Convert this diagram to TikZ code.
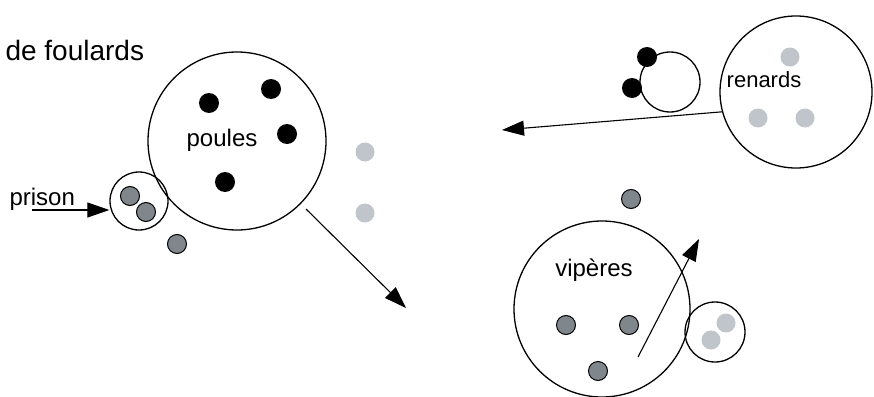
\documentclass[tikz,border=0pt]{standalone}
\usepackage{fontspec}
\setmainfont{Liberation Sans}
\usetikzlibrary{positioning}
\usetikzlibrary{arrows.meta}

\definecolor{darkdot}{HTML}{7F868C}
\definecolor{paledot}{HTML}{C0C4CB}

\tikzset{
  group/.style={draw, circle, line width=1.3pt, inner sep=0pt},
  animal/.style={font=\fontsize{24}{28}\selectfont},
  blackdot/.style={circle, fill=black, inner sep=0pt, minimum size=20pt},
  greydot/.style={circle, fill=darkdot, draw=black, line width=1pt, inner sep=0pt, minimum size=19pt},
  palepoint/.style={circle, fill=paledot, inner sep=0pt, minimum size=19pt},
  move/.style={-{Triangle[length=22pt,width=15pt]}, line width=1.1pt}
}

\begin{document}
\begin{tikzpicture}[x=1pt,y=-1pt]
        \useasboundingbox (0,0) rectangle (874,396);

      \node[anchor=base west, font=\fontsize{28}{32}\selectfont] (title) at (2,60) {de foulards};

      % poules
      \node[group, minimum size=178pt]  (poules)  at (237,141) {};
      \node[animal]                     (lpoules) at (222,140) {poules};
      \node[blackdot] (p_1) at (209,103) {};
      \node[blackdot] (p_2) at (271,89)  {};
      \node[blackdot] (p_3) at (287,134) {};
      \node[blackdot] (p_4) at (225,182) {};

      % prison
      \node[group, minimum size=58pt]  (prison)  at (139,201) {};
      \node[greydot] (g_1) at (130,196) {};
      \node[greydot] (g_2) at (146,212) {};
      \node[animal, anchor=base west] (lprison) at (6,205) {prison};
      \coordinate (in) at (32,210);
      \node[greydot] (g_3) at (177,244) {};

      \node[palepoint] (f_1) at (365,152) {};
      \node[palepoint] (f_2) at (365,213) {};
      \coordinate (out_p) at (306,209);
      \coordinate (to_p)  at (406,308);

      % renards
      \node[group, minimum size=152pt] (renards)  at (796,92) {};
      \node[animal, font=\fontsize{22}{26}\selectfont] (lrenards) at (764,80) {renards};
      \node[palepoint] (r_1) at (790,57)  {};
      \node[palepoint] (r_2) at (758,118) {};
      \node[palepoint] (r_3) at (805,118) {};
      \node[group, minimum size=60pt]  (den) at (670,82) {};
      \node[blackdot] (d_1) at (647,57) {};
      \node[blackdot] (d_2) at (632,88) {};
      \coordinate (to_r) at (502,130);

      % viperes
      \node[greydot] (g_4) at (631,199) {};
      \node[group, minimum size=176pt] (viperes)  at (602,309) {};
      \node[animal]                    (lviperes) at (594,270) {vipères};
      \node[greydot] (v_1) at (566,325) {};
      \node[greydot] (v_2) at (629,325) {};
      \node[greydot] (v_3) at (598,371) {};
      \node[group, minimum size=60pt]  (nest) at (715,332) {};
      \node[palepoint] (n_1) at (726,323) {};
      \node[palepoint] (n_2) at (711,340) {};
      \coordinate (out_v) at (638,357);
      \coordinate (to_v)  at (699,239);

      \draw[move] (in) -- (in -| prison.west);
      \draw[move] (out_p) -- (to_p);
      \draw[move] (renards.195) -- (to_r);
      \draw[move] (out_v) -- (to_v);
    \end{tikzpicture}
\end{document}
